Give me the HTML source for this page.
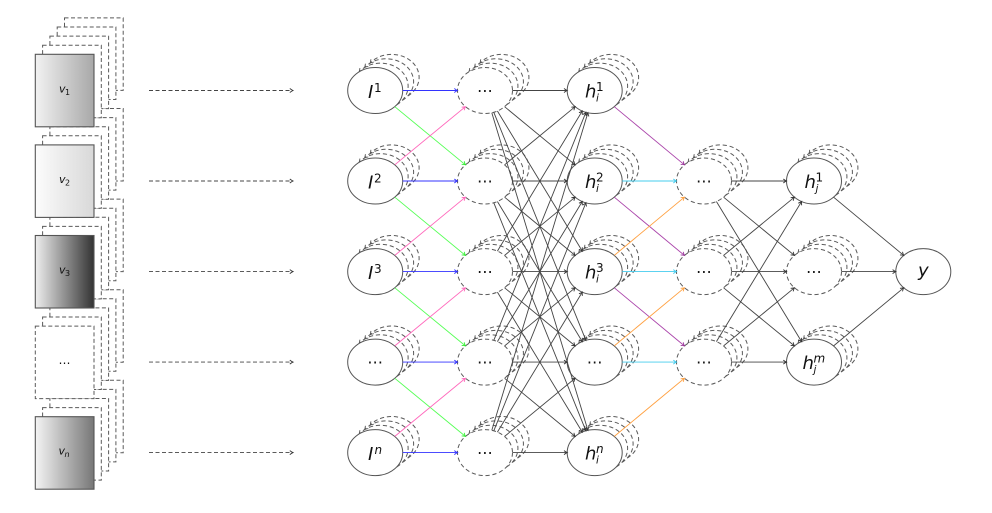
<!DOCTYPE html>
<html><head><meta charset="utf-8"><style>
html,body{margin:0;padding:0;background:#fff}
svg{display:block}
text{font-family:"DejaVu Sans",sans-serif;font-style:italic;fill:#111}
.d{font-style:normal;text-anchor:middle;font-size:16px}
.m{font-size:18px}.s{font-size:12px;font-style:normal}.ss{font-size:10.5px}
.v{font-size:11px}.vs{font-size:8px}
</style></head><body>
<svg width="992" height="513" viewBox="0 0 992 513" xmlns="http://www.w3.org/2000/svg">
<defs>
<linearGradient id="g1"><stop offset="0" stop-color="#f2f2f2"/><stop offset="1" stop-color="#a8a8a8"/></linearGradient>
<linearGradient id="g2"><stop offset="0" stop-color="#fcfcfc"/><stop offset="1" stop-color="#d8d8d8"/></linearGradient>
<linearGradient id="g3"><stop offset="0" stop-color="#eeeeee"/><stop offset="1" stop-color="#333333"/></linearGradient>
<linearGradient id="g4"><stop offset="0" stop-color="#f4f4f4"/><stop offset="1" stop-color="#777777"/></linearGradient>
<marker id="ak" viewBox="-4 -3 5 6" markerWidth="5" markerHeight="6" markerUnits="userSpaceOnUse" orient="auto" overflow="visible"><path d="M-3.2,-2Q-1.2,-.5 0,0Q-1.2,.5 -3.2,2" fill="none" stroke="#333" stroke-width=".9"/></marker>
<marker id="ag" viewBox="-4 -3 5 6" markerWidth="5" markerHeight="6" markerUnits="userSpaceOnUse" orient="auto" overflow="visible"><path d="M-3.2,-2Q-1.2,-.5 0,0Q-1.2,.5 -3.2,2" fill="none" stroke="#555" stroke-width=".9"/></marker>
<marker id="ab" viewBox="-4 -3 5 6" markerWidth="5" markerHeight="6" markerUnits="userSpaceOnUse" orient="auto" overflow="visible"><path d="M-3.2,-2Q-1.2,-.5 0,0Q-1.2,.5 -3.2,2" fill="none" stroke="#3333ff" stroke-width=".9"/></marker>
<marker id="agr" viewBox="-4 -3 5 6" markerWidth="5" markerHeight="6" markerUnits="userSpaceOnUse" orient="auto" overflow="visible"><path d="M-3.2,-2Q-1.2,-.5 0,0Q-1.2,.5 -3.2,2" fill="none" stroke="#33ee33" stroke-width=".9"/></marker>
<marker id="ap" viewBox="-4 -3 5 6" markerWidth="5" markerHeight="6" markerUnits="userSpaceOnUse" orient="auto" overflow="visible"><path d="M-3.2,-2Q-1.2,-.5 0,0Q-1.2,.5 -3.2,2" fill="none" stroke="#ff66bb" stroke-width=".9"/></marker>
<marker id="au" viewBox="-4 -3 5 6" markerWidth="5" markerHeight="6" markerUnits="userSpaceOnUse" orient="auto" overflow="visible"><path d="M-3.2,-2Q-1.2,-.5 0,0Q-1.2,.5 -3.2,2" fill="none" stroke="#993399" stroke-width=".9"/></marker>
<marker id="ao" viewBox="-4 -3 5 6" markerWidth="5" markerHeight="6" markerUnits="userSpaceOnUse" orient="auto" overflow="visible"><path d="M-3.2,-2Q-1.2,-.5 0,0Q-1.2,.5 -3.2,2" fill="none" stroke="#ffa040" stroke-width=".9"/></marker>
<marker id="ac" viewBox="-4 -3 5 6" markerWidth="5" markerHeight="6" markerUnits="userSpaceOnUse" orient="auto" overflow="visible"><path d="M-3.2,-2Q-1.2,-.5 0,0Q-1.2,.5 -3.2,2" fill="none" stroke="#44ccee" stroke-width=".9"/></marker>
<g id="stk" fill="#fff" stroke="#5a5a5a" stroke-width="1" stroke-dasharray="4 2.5">
<rect x="29.2" y="-36.4" width="58.7" height="72.5"/>
<rect x="21.9" y="-27.3" width="58.7" height="72.5"/>
<rect x="14.6" y="-18.2" width="58.7" height="72.5"/>
<rect x="7.3" y="-9.1" width="58.7" height="72.5"/>
</g>
<g id="arcs" fill="none" stroke="#5a5a5a" stroke-width="1" stroke-dasharray="4.2 2.8" marker-end="url(#ag)">
<path d="M21.55,14.3A27.5,23 0 1 0 -16.05,-18.7"/>
<path d="M27.05,9.9A27.5,23 0 1 0 -10.55,-23.1"/>
<path d="M32.55,5.5A27.5,23 0 1 0 -5.05,-27.5"/>
</g>
<ellipse id="sol" rx="27.5" ry="23" fill="#fff" stroke="#555" stroke-width="1"/>
<ellipse id="das" rx="27.5" ry="23" fill="#fff" stroke="#5a5a5a" stroke-width="1" stroke-dasharray="4.2 2.8"/>
<g id="ns"><use href="#arcs"/><use href="#sol"/></g>
<g id="nd"><use href="#arcs"/><use href="#das"/></g>
</defs>

<!-- image stacks -->
<g transform="translate(35.3,416.7)"><use href="#stk"/><rect width="58.7" height="72.5" fill="url(#g4)" stroke="#555" stroke-width="1.1"/></g>
<g transform="translate(35.3,326.1)"><use href="#stk"/><rect width="58.7" height="72.5" fill="#fff" stroke="#5a5a5a" stroke-width="1" stroke-dasharray="4 2.5"/></g>
<g transform="translate(35.3,235.5)"><use href="#stk"/><rect width="58.7" height="72.5" fill="url(#g3)" stroke="#555" stroke-width="1.1"/></g>
<g transform="translate(35.3,144.9)"><use href="#stk"/><rect width="58.7" height="72.5" fill="url(#g2)" stroke="#555" stroke-width="1.1"/></g>
<g transform="translate(35.3,54.3)"><use href="#stk"/><rect width="58.7" height="72.5" fill="url(#g1)" stroke="#555" stroke-width="1.1"/></g>
<text class="v" x="59" y="92.5">v</text><text class="vs" x="65" y="95" style="font-style:normal">1</text>
<text class="v" x="59" y="183">v</text><text class="vs" x="65" y="185.5" style="font-style:normal">2</text>
<text class="v" x="59" y="273.6">v</text><text class="vs" x="65" y="276" style="font-style:normal">3</text>
<text class="d" x="64.5" y="367" style="font-size:12px">⋯</text>
<text class="v" x="58.5" y="454.6">v</text><text class="vs" x="64.5" y="457">n</text>

<!-- dashed arrows -->
<g stroke="#444" stroke-width=".9" stroke-dasharray="4 2.5" marker-end="url(#ak)" fill="none">
<path d="M149,90.5H293"/><path d="M149,181H293"/><path d="M149,271.6H293"/><path d="M149,362.1H293"/><path d="M149,452.6H293"/>
</g>

<!-- nodes -->
<use href="#ns" x="375.2" y="90.5"/><use href="#ns" x="375.2" y="181"/><use href="#ns" x="375.2" y="271.6"/><use href="#ns" x="375.2" y="362.1"/><use href="#ns" x="375.2" y="452.6"/>
<use href="#nd" x="485" y="90.5"/><use href="#nd" x="485" y="181"/><use href="#nd" x="485" y="271.6"/><use href="#nd" x="485" y="362.1"/><use href="#nd" x="485" y="452.6"/>
<use href="#ns" x="594.7" y="90.5"/><use href="#ns" x="594.7" y="181"/><use href="#ns" x="594.7" y="271.6"/><use href="#ns" x="594.7" y="362.1"/><use href="#ns" x="594.7" y="452.6"/>
<use href="#nd" x="704" y="181"/><use href="#nd" x="704" y="271.6"/><use href="#nd" x="704" y="362.1"/>
<use href="#ns" x="814" y="181"/><use href="#nd" x="814" y="271.6"/><use href="#ns" x="814" y="362.1"/>
<use href="#sol" x="923.3" y="271.6"/>

<!-- edges -->
<g fill="none" stroke-width=".9">
<g stroke="#3333ff" marker-end="url(#ab)">
<path d="M402.7,90.5H457.5"/><path d="M402.7,181H457.5"/><path d="M402.7,271.6H457.5"/><path d="M402.7,362.1H457.5"/><path d="M402.7,452.6H457.5"/>
</g>
<g stroke="#55ff55" marker-end="url(#agr)">
<path d="M394.8,106.7L465.4,164.8"/><path d="M394.8,197.2L465.4,255.4"/><path d="M394.8,287.8L465.4,345.9"/><path d="M394.8,378.3L465.4,436.4"/>
</g>
<g stroke="#ff66bb" marker-end="url(#ap)">
<path d="M394.8,164.8L465.4,106.7"/><path d="M394.8,255.4L465.4,197.2"/><path d="M394.8,345.9L465.4,287.8"/><path d="M394.8,436.4L465.4,378.3"/>
</g>
<g stroke="#444" marker-end="url(#ak)">
<path d="M512.5,90.5H567.2"/><path d="M512.5,181H567.2"/><path d="M512.5,271.6H567.2"/><path d="M512.5,362.1H567.2"/><path d="M512.5,452.6H567.2"/>
<path d="M504.6,106.7L575.1,164.8"/><path d="M497.4,111L582.3,251.1"/><path d="M493.8,112.3L585.9,340.3"/><path d="M491.8,112.8L587.9,430.3"/>
<path d="M504.6,164.8L575.1,106.7"/><path d="M504.6,197.2L575.1,255.4"/><path d="M497.4,201.5L582.3,341.6"/><path d="M493.8,202.8L585.9,430.8"/>
<path d="M497.4,251.1L582.3,111"/><path d="M504.6,255.4L575.1,197.2"/><path d="M504.6,287.8L575.1,345.9"/><path d="M497.4,292.1L582.3,432.1"/>
<path d="M493.8,340.3L585.9,112.3"/><path d="M497.4,341.6L582.3,201.5"/><path d="M504.6,345.9L575.1,287.8"/><path d="M504.6,378.3L575.1,436.4"/>
<path d="M491.8,430.3L587.9,112.8"/><path d="M493.8,430.8L585.9,202.8"/><path d="M497.4,432.1L582.3,292.1"/><path d="M504.6,436.4L575.1,378.3"/>
<path d="M731.5,181H786.5"/><path d="M731.5,271.6H786.5"/><path d="M731.5,362.1H786.5"/>
<path d="M723.6,197.2L794.4,255.4"/><path d="M716.4,201.5L801.6,341.6"/><path d="M723.6,255.4L794.4,197.2"/><path d="M723.6,287.8L794.4,345.9"/><path d="M716.4,341.6L801.6,201.5"/><path d="M723.6,345.9L794.4,287.8"/>
<path d="M833.6,197.2L903.7,255.4"/><path d="M841.5,271.6H895.8"/><path d="M833.6,345.9L903.7,287.8"/>
</g>
<g stroke="#aa44aa" marker-end="url(#au)">
<path d="M614.3,106.7L684.4,164.8"/><path d="M614.3,197.2L684.4,255.4"/><path d="M614.3,287.8L684.4,345.9"/>
</g>
<g stroke="#ffa040" marker-end="url(#ao)">
<path d="M614.3,255.4L684.4,197.2"/><path d="M614.3,345.9L684.4,287.8"/><path d="M614.3,436.4L684.4,378.3"/>
</g>
<g stroke="#44ccee" marker-end="url(#ac)">
<path d="M622.2,181H676.5"/><path d="M622.2,271.6H676.5"/><path d="M622.2,362.1H676.5"/>
</g>
</g>

<!-- labels col 1 -->
<text class="m" x="368" y="98">I</text><text class="s" x="374" y="92">1</text>
<text class="m" x="368" y="188.5">I</text><text class="s" x="374" y="182.5">2</text>
<text class="m" x="368" y="279">I</text><text class="s" x="374" y="273">3</text>
<text class="d" x="375.2" y="367.5">⋯</text>
<text class="m" x="368" y="460">I</text><text class="s" x="374.5" y="454" style="font-style:italic">n</text>
<!-- labels col 2 -->
<text class="d" x="485" y="96">⋯</text><text class="d" x="485" y="186.5">⋯</text><text class="d" x="485" y="277">⋯</text><text class="d" x="485" y="367.5">⋯</text><text class="d" x="485" y="458">⋯</text>
<!-- labels col 3 -->
<text class="m" x="585" y="97.5">h</text><text class="s" x="596" y="91">1</text><text class="ss" x="596" y="101.5">i</text>
<text class="m" x="585" y="188">h</text><text class="s" x="596" y="181.5">2</text><text class="ss" x="596" y="192">i</text>
<text class="m" x="585" y="278.5">h</text><text class="s" x="596" y="272">3</text><text class="ss" x="596" y="282.5">i</text>
<text class="d" x="594.7" y="367.5">⋯</text>
<text class="m" x="585" y="459.5">h</text><text class="s" x="596" y="453" style="font-style:italic">n</text><text class="ss" x="596" y="463.5">i</text>
<!-- labels col 4 -->
<text class="d" x="704" y="186.5">⋯</text><text class="d" x="704" y="277">⋯</text><text class="d" x="704" y="367.5">⋯</text>
<!-- labels col 5 -->
<text class="m" x="804.5" y="188">h</text><text class="s" x="815.5" y="181.5">1</text><text class="ss" x="815.5" y="192">j</text>
<text class="d" x="814" y="277">⋯</text>
<text class="m" x="802.5" y="369">h</text><text class="s" x="813.5" y="362.5" style="font-style:italic">m</text><text class="ss" x="813.5" y="373">j</text>
<text class="m" x="918" y="276.5">y</text>
</svg>
</body></html>
